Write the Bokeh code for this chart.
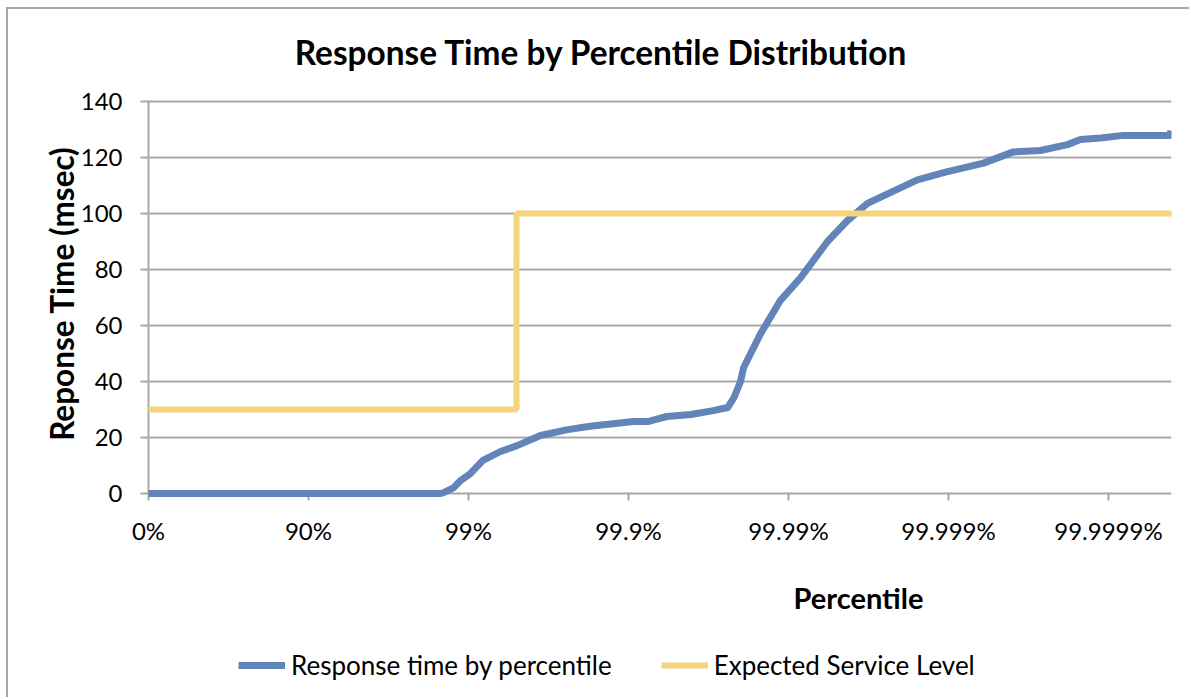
import math
from bokeh.plotting import figure
from bokeh.models import Legend, LegendItem, Range1d
from bokeh.core.properties import value
from bokeh.embed import file_html
from bokeh.resources import INLINE

# Percentile expressed as "number of nines": log10(1 / (1 - p))
resp_nines = [0.0, 1.825, 1.844, 1.906, 1.95, 2.01, 2.09, 2.2, 2.3, 2.45, 2.62, 2.76,
              3.03, 3.12, 3.24, 3.39, 3.53, 3.62, 3.66, 3.70, 3.72, 3.825, 3.95, 4.075,
              4.244, 4.369, 4.494, 4.656, 4.806, 4.969, 5.219, 5.406, 5.575, 5.744,
              5.825, 5.95, 6.094, 6.385, 6.39]
resp_ms = [0.0, 0.0, 0.3, 2.0, 4.6, 7.0, 11.8, 15.0, 17.0, 20.7, 22.8, 24.0,
           25.7, 25.7, 27.5, 28.2, 29.6, 30.7, 34.3, 40.0, 45.0, 57.0, 69.0, 77.0,
           90.0, 97.5, 103.6, 108.0, 112.0, 114.6, 118.0, 122.0, 122.5, 124.6,
           126.4, 127.0, 127.9, 127.9, 129.6]

sla_nines = [0.0, 2.3, 2.3, 6.4]
sla_ms = [30, 30, 100, 100]

x_ticks = [0, 1, 2, 3, 4, 5, 6]
x_tick_labels = ["0%", "90%", "99%", "99.9%", "99.99%", "99.999%", "99.9999%"]
y_ticks = [0, 20, 40, 60, 80, 100, 120, 140]
y_tick_labels = [str(v) for v in y_ticks]

BLUE = "#6384B8"
YELLOW = "#F5D47C"
GRID = "#A8A8A8"
FONT = value("Lato")

X_MAX = 6.394
Y_MIN, Y_MAX = 0, 140

# The whole chart (axes, titles, legend) lives inside one frame so that
# nothing outside the plotting area gets clipped.
p = figure(width=1183, height=690, output_backend="svg", toolbar_location=None,
           x_range=Range1d(-0.875, X_MAX), y_range=Range1d(-73.571, 172.857),
           x_axis_location=None, y_axis_location=None,
           min_border_left=0, min_border_right=20, min_border_top=0,
           min_border_bottom=0,
           margin=(7, 0, 0, 6),
           styles={"border-left": "2px solid #A6A6A6", "border-top": "2px solid #A6A6A6"})
p.outline_line_color = None
p.background_fill_color = "white"
p.border_fill_color = "white"
p.xgrid.visible = False
p.ygrid.visible = False

# horizontal grid lines (extended slightly left to form the y tick marks)
p.segment(x0=-0.05, y0=y_ticks, x1=X_MAX, y1=y_ticks, line_color=GRID, line_width=2)
# y axis line
p.segment(x0=[0], y0=[Y_MIN], x1=[0], y1=[Y_MAX], line_color=GRID, line_width=2)
# x tick marks
p.segment(x0=x_ticks, y0=0, x1=x_ticks, y1=-2.5, line_color=GRID, line_width=2)

r_resp = p.line(resp_nines, resp_ms, line_color=BLUE, line_width=7, line_join="round")
r_sla = p.line(sla_nines, sla_ms, line_color=YELLOW, line_width=6)

# tick labels
p.text(x=x_ticks, y=-13.2, text=x_tick_labels, text_font=FONT, text_font_size="24px",
       text_align="center", text_baseline="middle", text_color="black")
p.text(x=-0.1625, y=y_ticks, text=y_tick_labels, text_font=FONT, text_font_size="24px",
       text_align="right", text_baseline="middle", text_color="black")

# titles
p.text(x=[2.831], y=[157.5], text=["Response Time by Percentile Distribution"],
       text_font=FONT, text_font_style="bold", text_font_size="33.4px",
       text_align="center", text_baseline="middle", text_color="black")
p.text(x=[-0.5375], y=[71.4], text=["Reponse Time (msec)"], angle=math.pi / 2,
       text_font=FONT, text_font_style="bold", text_font_size="31.5px",
       text_align="center", text_baseline="middle", text_color="black")
p.text(x=[4.4375], y=[-37.14], text=["Percentile"],
       text_font=FONT, text_font_style="bold", text_font_size="29px",
       text_align="center", text_baseline="middle", text_color="black")

legend = Legend(items=[LegendItem(label="Response time by percentile", renderers=[r_resp]),
                       LegendItem(label="Expected Service Level", renderers=[r_sla])],
                orientation="horizontal", location=(230, 18), margin=0,
                label_text_font="Lato", label_text_font_size="26px",
                label_text_color="black", glyph_width=47, label_standoff=6,
                spacing=49, border_line_color=None, background_fill_alpha=0)
p.add_layout(legend, "center")

open("out.html", "w").write(file_html(p, INLINE))
